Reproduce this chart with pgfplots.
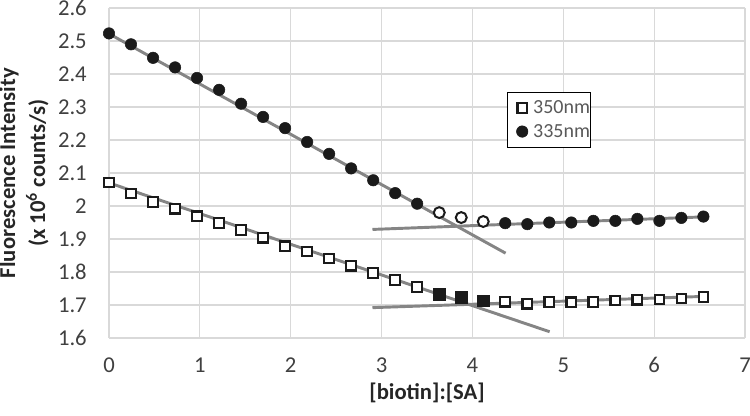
\documentclass[border=0pt]{standalone}
\usepackage{pgfplots}
\pgfplotsset{compat=1.18}
\usepackage{fontspec}
\setmainfont{Carlito}
\definecolor{gridc}{HTML}{D9D9D9}
\definecolor{trend}{HTML}{858585}
\definecolor{mk}{HTML}{1A1A1A}
\definecolor{tickc}{HTML}{404040}
\definecolor{titlec}{HTML}{262626}
\definecolor{legc}{HTML}{595959}
\begin{document}
\begin{tikzpicture}
\begin{axis}[
 scale only axis, width=477pt, height=247.5pt,
 xmin=0, xmax=7, ymin=1.6, ymax=2.6,
 xtick={0,1,2,3,4,5,6,7},
 ytick={1.6,1.7,1.8,1.9,2.0,2.1,2.2,2.3,2.4,2.5,2.6},
 grid=major, major grid style={gridc, line width=0.9pt},
 axis line style={draw=none}, tick style={draw=none},
 clip=false,
 /pgf/number format/assume math mode=true,
 ticklabel style={font=\fontsize{17}{20}\selectfont, text=tickc},
 xticklabel style={anchor=center, yshift=-20.25pt},
 yticklabel style={anchor=east, inner sep=0pt, xshift=-16.5pt},
 xlabel={[biotin]:[SA]},
 xlabel style={at={(axis description cs:0.5,0)}, anchor=center, yshift=-41.5pt, font=\fontsize{17}{20}\selectfont\bfseries, text=titlec},
 ylabel={Fluorescence Intensity\\(x 10\textsuperscript{6} counts/s)},
 ylabel style={at={(axis description cs:0,0.5)}, anchor=center, yshift=63.75pt, align=center, font=\fontsize{17}{22.5}\selectfont\bfseries, text=titlec},
 legend cell align=left,
 legend style={at={(0.625,0.745)}, anchor=north west, draw=black, line width=0.6pt, fill=white,
   font=\fontsize{15}{18}\selectfont, text=legc, row sep=6.5pt, inner xsep=0pt, inner ysep=5.9pt,
   nodes={inner sep=0pt}, cells={anchor=west}, column sep=3.7pt},
 legend image code/.code={\path[draw=none,fill=none] (0pt,-5pt) rectangle (16pt,5pt); \draw[#1] plot coordinates {(11.5pt,0pt)};},
]
% trendlines
\addplot[trend, line width=2.2pt, forget plot] coordinates {(0,2.522) (4.365,1.857)};
\addplot[trend, line width=2.2pt, forget plot] coordinates {(2.90,1.929) (6.54,1.967)};
\addplot[trend, line width=2.2pt, forget plot] coordinates {(0,2.070) (4.85,1.619)};
\addplot[trend, line width=2.2pt, forget plot] coordinates {(2.90,1.692) (6.54,1.726)};
% 350nm open squares
\addplot[only marks, mark=square*, mark size=3.6pt, draw=mk, fill=white, line width=1.6pt] table {
x y
0.000 2.071
0.242 2.038
0.485 2.012
0.727 1.992
0.969 1.969
1.212 1.949
1.454 1.927
1.696 1.904
1.938 1.878
2.181 1.862
2.423 1.841
2.665 1.819
2.908 1.797
3.150 1.776
3.392 1.755
};
\addlegendentry{350nm}
% 335nm filled circles
\addplot[only marks, mark=*, mark size=4.3pt, draw=mk, fill=mk, line width=0.4pt] table {
x y
0.000 2.523
0.242 2.490
0.485 2.449
0.727 2.420
0.969 2.388
1.212 2.352
1.454 2.310
1.696 2.270
1.938 2.236
2.181 2.194
2.423 2.158
2.665 2.114
2.908 2.078
3.150 2.039
3.392 2.007
};
\addlegendentry{335nm}
\addplot[only marks, mark=*, mark size=4.3pt, draw=mk, fill=mk, line width=0.4pt, forget plot] table {
x y
4.361 1.948
4.604 1.945
4.846 1.950
5.088 1.950
5.331 1.955
5.573 1.955
5.815 1.961
6.058 1.955
6.300 1.964
6.542 1.968
};
% 335nm open circles
\addplot[only marks, mark=*, mark size=4.1pt, draw=mk, fill=white, line width=1.5pt, forget plot] table {
x y
3.635 1.980
3.877 1.965
4.119 1.953
};
% 350nm filled squares
\addplot[only marks, mark=square*, mark size=4.3pt, draw=mk, fill=mk, line width=0.2pt, forget plot] table {
x y
3.635 1.733
3.877 1.724
4.119 1.713
};
\addplot[only marks, mark=square*, mark size=3.6pt, draw=mk, fill=white, line width=1.6pt, forget plot] table {
x y
4.361 1.710
4.604 1.704
4.846 1.709
5.088 1.708
5.331 1.709
5.573 1.714
5.815 1.716
6.058 1.717
6.300 1.720
6.542 1.724
};
\coordinate (ll) at (rel axis cs:0,0);
\coordinate (ur) at (rel axis cs:1,1);
\end{axis}
\pgfresetboundingbox
\path ([xshift=-81.75pt,yshift=-57.75pt]ll) rectangle ([xshift=3.75pt,yshift=6pt]ur);
\end{tikzpicture}
\end{document}
